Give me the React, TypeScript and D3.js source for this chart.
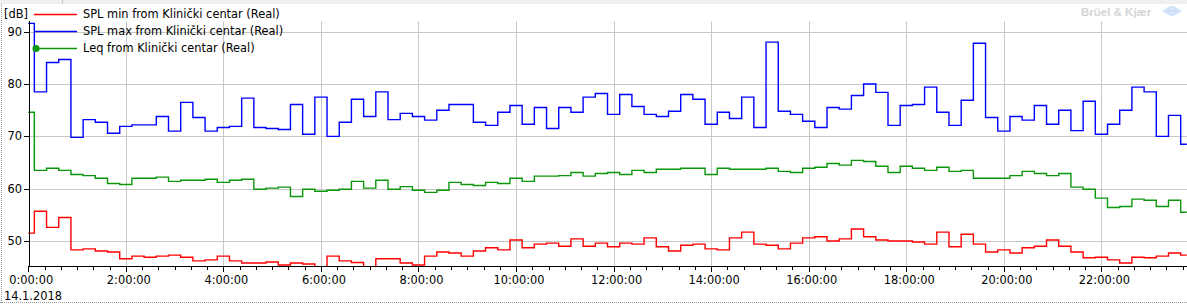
import React from "react";
import * as d3 from "d3";

const W = 1187;
const H = 304;

// 15-minute intervals starting at 0:00:00 (hours)
const splMin: number[] = [
  51.5, 55.7, 52.6, 54.5, 48.3, 48.5, 48.1, 47.9, 46.6, 47.1, 46.9, 47.1, 47.3, 46.9, 46.2, 46.4,
  47.1, 46.2, 45.8, 45.8, 46.0, 45.4, 45.8, 45.6, 44.8, 47.1, 46.2, 45.9, 44.8, 46.6, 46.6, 45.8,
  45.4, 47.1, 47.9, 47.7, 47.1, 48.1, 48.7, 48.3, 50.2, 48.7, 49.4, 49.6, 49.0, 50.4, 49.0, 49.6,
  48.9, 49.6, 49.4, 50.6, 48.9, 48.1, 49.2, 49.4, 48.5, 48.3, 50.6, 51.7, 49.4, 49.2, 48.5, 49.6,
  50.6, 50.8, 50.0, 50.4, 52.3, 50.8, 50.2, 50.0, 50.0, 49.8, 49.4, 51.7, 48.9, 51.3, 49.4, 47.9,
  48.3, 47.7, 48.7, 49.0, 50.2, 49.0, 47.9, 46.8, 46.9, 46.4, 45.8, 46.9, 46.8, 47.1, 47.7, 47.3,
];

const splMax: number[] = [
  91.6, 78.5, 84.1, 84.7, 69.8, 73.2, 72.7, 70.6, 71.9, 72.2, 72.2, 73.8, 71.0, 76.5, 73.6, 71.0,
  71.7, 71.9, 77.3, 71.7, 71.5, 71.3, 76.1, 70.4, 77.5, 70.0, 72.7, 77.1, 73.8, 78.5, 73.2, 74.4,
  73.8, 73.1, 75.0, 76.1, 76.1, 72.7, 72.1, 74.6, 75.9, 72.3, 75.5, 71.5, 75.5, 74.6, 77.5, 78.2,
  74.2, 78.0, 75.7, 74.2, 73.8, 74.8, 78.0, 77.1, 72.3, 74.6, 73.4, 77.5, 71.7, 88.0, 74.8, 74.2,
  72.9, 71.7, 75.5, 75.2, 77.8, 80.0, 78.4, 72.1, 75.9, 76.1, 79.4, 74.6, 72.1, 76.9, 87.8, 73.6,
  71.0, 73.8, 73.1, 75.9, 72.3, 75.0, 71.1, 76.7, 70.4, 72.3, 75.0, 79.4, 78.5, 70.0, 74.0, 68.5,
];

const leq: number[] = [
  74.6, 63.5, 63.9, 63.5, 62.7, 62.5, 62.0, 61.0, 60.8, 62.0, 62.0, 62.2, 61.4, 61.6, 61.6, 61.8,
  61.2, 61.6, 61.8, 59.9, 60.1, 60.3, 58.5, 59.9, 59.5, 59.7, 59.9, 61.4, 60.1, 61.6, 59.9, 60.4,
  59.7, 59.3, 59.7, 61.2, 60.8, 60.6, 61.2, 61.0, 62.0, 61.4, 62.4, 62.4, 62.5, 63.1, 62.4, 62.9,
  63.1, 62.7, 63.5, 63.1, 63.7, 63.7, 63.9, 63.9, 62.7, 63.9, 63.7, 63.7, 63.7, 63.9, 63.3, 63.1,
  63.9, 64.1, 64.8, 64.5, 65.4, 65.2, 64.3, 63.1, 64.3, 63.9, 63.5, 64.1, 63.3, 63.5, 62.0, 62.0,
  62.0, 62.5, 63.3, 62.9, 62.5, 62.9, 60.3, 59.9, 58.2, 56.4, 56.6, 58.0, 57.8, 56.6, 57.8, 55.5,
];

const yTicks: number[] = [50, 60, 70, 80, 90];
const xLabelHours: number[] = [0, 2, 4, 6, 8, 10, 12, 14, 16, 18, 20, 22];
const dateLabel = "14.1.2018";
const unitLabel = "[dB]";

const seriesNames: string[] = [
  "SPL min from Klinički centar (Real)",
  "SPL max from Klinički centar (Real)",
  "Leq from Klinički centar (Real)",
];
const seriesColors: string[] = ["#ff0000", "#0000ff", "#0a960a"];

const FONT = "'DejaVu Sans', Verdana, sans-serif";

export default function App() {
  const x0 = 28.25;
  const pxPerHour = 48.78;
  const x = d3.scaleLinear().domain([0, 24]).range([x0, x0 + pxPerHour * 24]);
  const y = d3.scaleLinear().domain([50, 90]).range([241, 31.7]);
  const plotTop = 21;
  const plotBottom = 266;
  const plotLeft = 29;

  const line = d3
    .line<number>()
    .x((_, i) => x(i * 0.25))
    .y((d) => y(d))
    .curve(d3.curveStep);

  const series = [splMin, splMax, leq];

  const minorTicks = d3.range(0, 24 * 3 + 1).map((i) => i / 3);
  const gridHours = d3.range(2, 25, 2);

  const fs = 11.4;

  return (
    <svg
      width={W}
      height={H}
      style={{ position: "absolute", left: 0, top: 0, background: "#fff" }}
      fontFamily={FONT}
    >
      <defs>
        <clipPath id="plot">
          <rect x={plotLeft - 1} y={plotTop} width={W - plotLeft + 1} height={plotBottom - plotTop} />
        </clipPath>
      </defs>
      {/* top strip */}
      <rect x={0} y={0} width={W} height={4} fill="#f0f0f0" />
      <line x1={62.5} x2={62.5} y1={0} y2={4} stroke="#c8c8c8" />
      {/* outer dotted borders */}
      <line x1={1.5} x2={1.5} y1={4} y2={H} stroke="#999" strokeDasharray="1,1" />
      <line x1={0} x2={W} y1={302.5} y2={302.5} stroke="#999" strokeDasharray="1,1" />

      {/* brand */}
      <text x={1081} y={16} fontSize={11.5} fontWeight="bold" fill="#d4d4d4" fontFamily="'Liberation Sans', Arial, sans-serif">
        Brüel &amp; Kjær
      </text>
      <g transform="translate(1172,11)" opacity={0.55}>
        <ellipse cx={0} cy={0} rx={8} ry={4.5} fill="#b8d4f4" />
        <line x1={-10} x2={10} y1={0} y2={0} stroke="#9cc0ee" />
        <ellipse cx={0} cy={0} rx={3.5} ry={4.5} fill="none" stroke="#9cc0ee" />
      </g>

      {/* grid */}
      {yTicks.map((v) => (
        <line key={"gy" + v} x1={plotLeft} x2={W} y1={Math.round(y(v)) + 0.5} y2={Math.round(y(v)) + 0.5} stroke="#c8c8c8" />
      ))}
      {gridHours.map((h) => (
        <line key={"gx" + h} x1={Math.round(x(h)) + 0.5} x2={Math.round(x(h)) + 0.5} y1={plotTop} y2={plotBottom} stroke="#c8c8c8" />
      ))}

      {/* series */}
      <g clipPath="url(#plot)">
        {series.map((s, i) => (
          <path key={i} d={line(s) || ""} fill="none" stroke={seriesColors[i]} strokeWidth={1.4} />
        ))}
      </g>

      {/* axes */}
      <line x1={plotLeft + 0.5} x2={plotLeft + 0.5} y1={plotTop} y2={plotBottom + 1} stroke="#000" />
      <line x1={plotLeft} x2={W} y1={plotBottom + 0.5} y2={plotBottom + 0.5} stroke="#000" />
      {yTicks.map((v) => (
        <g key={"ty" + v}>
          <line x1={24} x2={plotLeft} y1={Math.round(y(v)) + 0.5} y2={Math.round(y(v)) + 0.5} stroke="#000" />
          <text x={22} y={y(v) + 4} fontSize={fs} textAnchor="end" fill="#000">
            {v}
          </text>
        </g>
      ))}
      {minorTicks.map((h) => {
        const major = Math.abs(h - Math.round(h / 2) * 2) < 1e-6;
        const xx = Math.round(x(h)) + 0.5;
        if (xx > W) return null;
        return (
          <line key={"tx" + h} x1={xx} x2={xx} y1={plotBottom} y2={plotBottom + (major ? 6 : 4)} stroke="#000" />
        );
      })}
      {xLabelHours.map((h) => (
        <text key={"lx" + h} x={x(h) + 3} y={284} fontSize={fs} textAnchor="middle" fill="#000">
          {`${h}:00:00`}
        </text>
      ))}
      <text x={4} y={300} fontSize={fs} fill="#000">
        {dateLabel}
      </text>
      <text x={4} y={18} fontSize={fs} fill="#000">
        {unitLabel}
      </text>

      {/* legend */}
      {seriesNames.map((n, i) => {
        const ly = 14 + i * 17;
        return (
          <g key={"lg" + i}>
            <line x1={34} x2={77} y1={ly + 0.5} y2={ly + 0.5} stroke={seriesColors[i]} strokeWidth={1.4} />
            {i === 2 && <circle cx={36} cy={ly + 0.5} r={3.5} fill={seriesColors[i]} />}
            <text x={83} y={ly + 4} fontSize={fs} fill="#000">
              {n}
            </text>
          </g>
        );
      })}
    </svg>
  );
}
